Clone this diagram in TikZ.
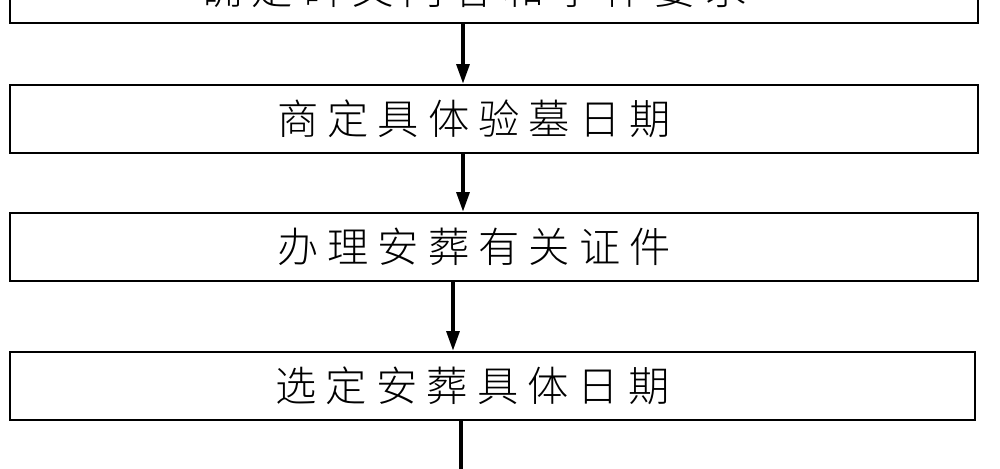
\documentclass[tikz,border=0pt]{standalone}
\usepackage{fontspec}
\newfontfamily\cjk{Noto Sans CJK SC Light}[LetterSpace=22]
\usetikzlibrary{arrows.meta}
\newcommand\shl{\hspace*{0.8cm}}
\begin{document}
\begin{tikzpicture}[x=0.02cm,y=-0.02cm,
  box/.style={draw,line width=1pt,minimum width=19.36cm,minimum height=1.36cm,inner sep=0pt,font=\cjk\fontsize{23.5}{27}\selectfont},
  arr/.style={line width=2.4pt,-{Triangle[length=0.4cm,width=0.25cm]}}]
\useasboundingbox[clip] (0,0) rectangle (1000,469);
\node[box] (b1) at (494,-11) {确定碑文内容和字体要求\shl};
\node[box] (b2) at (494,119) {商定具体验墓日期\shl};
\node[box] (b3) at (494,247) {办理安葬有关证件\shl};
\node[box,minimum width=19.3cm] (b4) at (492.5,386) {选定安葬具体日期\shl};
\coordinate (e) at (461,480);
\draw[arr] (b1.south -| 463,0) -- (b2.north -| 463,0);
\draw[arr] (b2.south -| 463,0) -- (b3.north -| 463,0);
\draw[arr] (b3.south -| 453,0) -- (b4.north -| 453,0);
\draw[line width=2.4pt] (b4.south -| 461,0) -- (e);
\end{tikzpicture}
\end{document}
